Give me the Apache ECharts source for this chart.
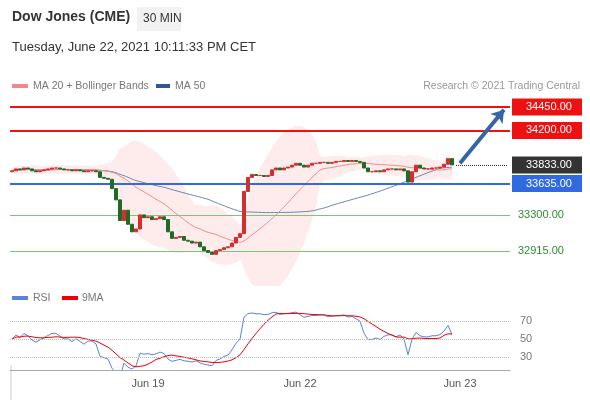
<!DOCTYPE html><html><head><meta charset="utf-8">
<script src="https://cdn.jsdelivr.net/npm/echarts@6/dist/echarts.min.js"></script>
<style>body{margin:0;background:#fff}#c{width:590px;height:400px}</style></head><body><div id="c"></div>
<script>
const closes=[33770,33790,33780,33800,33790,33770,33760,33770,33780,
33790,33800,33800,33790,33780,33780,33770,33780,33770,33760,33770,33770,33760,
33700,33690,33680,33580,33460,33240,33350,33200,33120,33150,33300,33270,33280,
33250,33260,33280,33250,33120,33050,33060,33070,33030,33020,33000,33010,32960,
32920,32900,32880,32920,32930,32950,32960,33000,33060,33100,33550,33700,
33730,33720,33720,33710,33720,33780,33800,33780,33800,33810,33830,33850,33830,33810,33830,
33850,33850,33860,33860,33850,33860,33870,33870,33880,33870,33880,33870,33860,33800,33760,
33760,33770,33760,33780,33790,33790,33780,33790,33770,33650,33760,33830,33800,33790,33790,
33800,33800,33810,33840,33900,33833];
const firstOpen=33760;
const levels={res2:34450,res1:34200,last:33833,pivot:33635,sup1:33300,sup2:32915};
const dateLabels={34:'Jun 19',72:'Jun 22',112:'Jun 23'};
const NCAT=125;
const cats=[];for(let i=0;i<NCAT;i++)cats.push(dateLabels[i]||'');
const ohlc=closes.map((c,i)=>{const o=i?closes[i-1]:firstOpen;return [o,c,Math.min(o,c),Math.max(o,c)];});
function ma(n){return closes.map((_,i)=>{const s=closes.slice(Math.max(0,i-n+1),i+1);return s.reduce((a,b)=>a+b,0)/s.length;});}
const ma20=ma(20),ma50=ma(50);
const sd=closes.map((_,i)=>{const s=closes.slice(Math.max(0,i-19),i+1);const m=ma20[i];return Math.sqrt(s.reduce((a,b)=>a+(b-m)*(b-m),0)/s.length);});
const lower=ma20.map((m,i)=>m-2*sd[i]-20), width=sd.map(s=>4*s+40);
let ag=8,al=8;
const rsi=closes.map((c,i)=>{if(i){const d=c-closes[i-1];ag=(ag*13+Math.max(d,0))/14;al=(al*13+Math.max(-d,0))/14;}return 100-100/(1+ag/al);});
const rsima=rsi.map((_,i)=>{const s=rsi.slice(Math.max(0,i-8),i+1);return s.reduce((a,b)=>a+b,0)/s.length;});
const tag=(v,bg,line)=>({yAxis:v,lineStyle:line?{color:bg,width:2,type:'solid'}:{color:'rgba(0,0,0,0)',width:1},label:{show:true,position:'end',formatter:v.toFixed(2),backgroundColor:bg,color:'#fff',padding:[3,6,3,14],fontSize:11,width:50,align:'left',distance:2}});
const greenL=v=>({yAxis:v,lineStyle:{color:'#7cc47c',width:1,type:'solid'},label:{show:true,position:'end',formatter:v.toFixed(2),color:'#2e8b2e',fontSize:11,distance:8}});
const ch=echarts.init(document.getElementById('c'));
ch.setOption({animation:false,
grid:[{left:10,right:80,top:95,height:190},{left:10,right:80,top:305,height:65}],
xAxis:[{type:'category',data:cats,gridIndex:0,show:false},
{type:'category',data:cats,gridIndex:1,axisLine:{lineStyle:{color:'#aaa'}},axisTick:{interval:(i)=>!!dateLabels[i],lineStyle:{color:'#aaa'},length:5},axisLabel:{interval:0,color:'#555',fontSize:11,margin:8}}],
yAxis:[{gridIndex:0,min:32553,max:34578,show:false},{gridIndex:1,min:15.6,max:87.8,show:false}],
graphic:[
{type:'text',left:12,top:10,style:{text:'Dow Jones (CME)',font:'bold 14px Arial',fill:'#333'}},
{type:'rect',shape:{x:137,y:7,width:44,height:24},style:{fill:'#f2f2f2'}},
{type:'text',left:143,top:13,style:{text:'30 MIN',font:'12px Arial',fill:'#333'}},
{type:'text',left:12,top:41,style:{text:'Tuesday, June 22, 2021 10:11:33 PM CET',font:'13px Arial',fill:'#333'}},
{type:'rect',shape:{x:12,y:84,width:16,height:4},style:{fill:'#f08a8a'}},
{type:'text',left:33,top:81,style:{text:'MA 20 + Bollinger Bands',font:'10.5px Arial',fill:'#777'}},
{type:'rect',shape:{x:156,y:84,width:14,height:4},style:{fill:'#2f5597'}},
{type:'text',left:175,top:81,style:{text:'MA 50',font:'10.5px Arial',fill:'#777'}},
{type:'text',right:10,top:81,style:{text:'Research © 2021 Trading Central',font:'10.5px Arial',fill:'#999'}},
{type:'rect',shape:{x:12,y:296,width:16,height:4},style:{fill:'#5b84d6'}},
{type:'text',left:33,top:293,style:{text:'RSI',font:'10.5px Arial',fill:'#777'}},
{type:'rect',shape:{x:62,y:296,width:16,height:4},style:{fill:'#e00'}},
{type:'text',left:82,top:293,style:{text:'9MA',font:'10.5px Arial',fill:'#777'}},
{type:'line',shape:{x1:11,y1:365,x2:11,y2:400},style:{stroke:'#ccc'}}
],
series:[
{type:'line',data:lower,stack:'bb',symbol:'none',smooth:true,lineStyle:{opacity:0}},
{type:'line',data:width,stack:'bb',symbol:'none',smooth:true,lineStyle:{opacity:0},areaStyle:{color:'#fde3e3'}},
{type:'line',data:ma50,symbol:'none',smooth:true,lineStyle:{color:'#6c84b0',width:1},z:3},
{type:'line',data:ma20,symbol:'none',smooth:true,lineStyle:{color:'#f08a8a',width:1},z:3},
{type:'candlestick',data:ohlc,barWidth:3,z:5,itemStyle:{color:'#d32f2f',color0:'#1f6b25',borderColor:'#d32f2f',borderColor0:'#1f6b25'},
 markLine:{symbol:'none',silent:true,data:[tag(levels.res2,'#ee1111',1),tag(levels.res1,'#ee1111',1),tag(levels.pivot,'#2f6ae0',1),tag(levels.last,'#333',0),greenL(levels.sup1),greenL(levels.sup2),
  [{coord:[111,levels.last],lineStyle:{color:'#333',type:'dotted',width:1},label:{show:false}},{coord:[124,levels.last]}],
  [{coord:[111.5,33850],lineStyle:{color:'#3565a8',width:4,type:'solid'},symbol:'none',label:{show:false}},{coord:[123,34420],symbol:'arrow',symbolSize:12}]
 ]}},
{type:'line',data:rsi,xAxisIndex:1,yAxisIndex:1,symbol:'none',lineStyle:{color:'#5b84d6',width:1},
 markLine:{symbol:'none',silent:true,lineStyle:{color:'#bbb',type:'dotted',width:1},data:[30,50,70].map(v=>({yAxis:v,label:{show:true,position:'end',formatter:String(v),color:'#777',fontSize:11,distance:10}}))}},
{type:'line',data:rsima,xAxisIndex:1,yAxisIndex:1,symbol:'none',lineStyle:{color:'#e00',width:1}}
]});
</script></body></html>
